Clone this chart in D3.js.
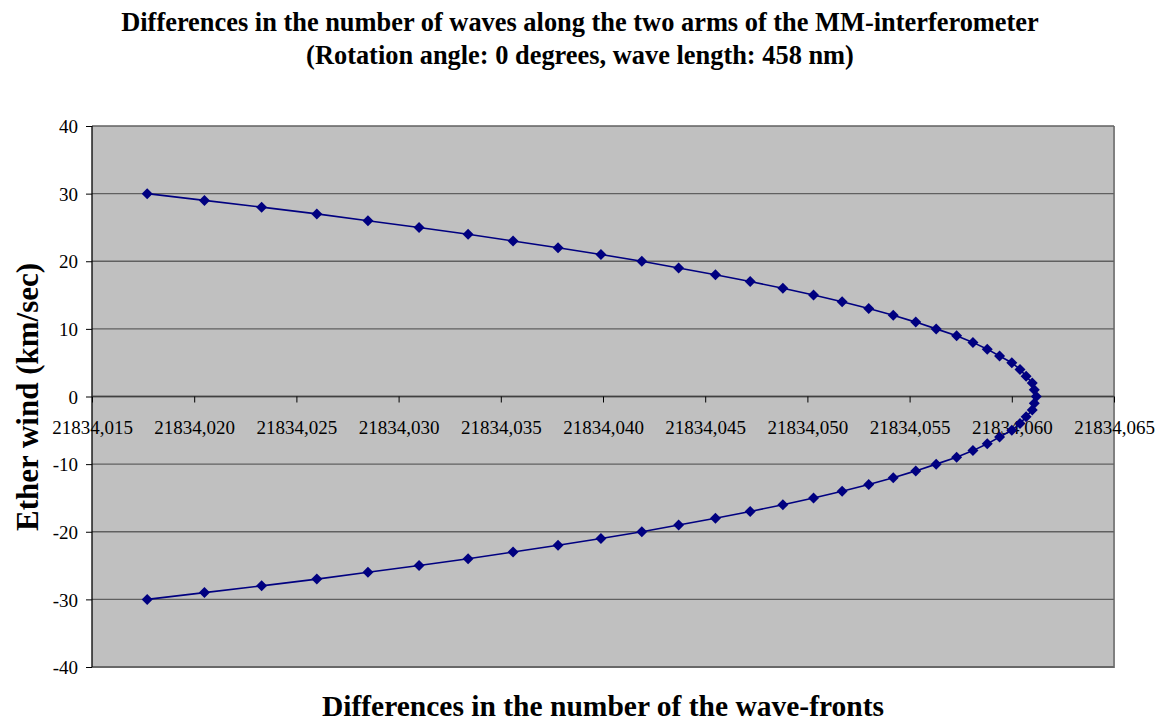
<!DOCTYPE html>
<html><head><meta charset="utf-8">
<script src="https://cdn.jsdelivr.net/npm/d3@7"></script>
<style>body{margin:0;background:#fff}svg{display:block}</style>
</head><body>
<svg id="c" width="1163" height="724"></svg>
<script>
const titleLines = ["Differences in the number of waves along the two arms of the MM-interferometer",
                    "(Rotation angle: 0 degrees, wave length: 458 nm)"];
const xTitle = "Differences in the number of the wave-fronts";
const yTitle = "Ether wind (km/sec)";
const xTicks = [21834.015, 21834.020, 21834.025, 21834.030, 21834.035, 21834.040, 21834.045, 21834.050, 21834.055, 21834.060, 21834.065];
const yTicks = [-40, -30, -20, -10, 0, 10, 20, 30, 40];
const etherWind = [30,29,28,27,26,25,24,23,22,21,20,19,18,17,16,15,14,13,12,11,10,9,8,7,6,5,4,3,2,1,0,
  -1,-2,-3,-4,-5,-6,-7,-8,-9,-10,-11,-12,-13,-14,-15,-16,-17,-18,-19,-20,-21,-22,-23,-24,-25,-26,-27,-28,-29,-30];
const waveDiff = [21834.0177,21834.0205,21834.0233,21834.0260,21834.0285,21834.0310,21834.0334,21834.0356,21834.0378,21834.0399,
  21834.0419,21834.0437,21834.0455,21834.0472,21834.0488,21834.0503,21834.0517,21834.0530,21834.0542,21834.0553,
  21834.0563,21834.0573,21834.0581,21834.0588,21834.0594,21834.0600,21834.0604,21834.0607,21834.0610,21834.0611,21834.0612,
  21834.0611,21834.0610,21834.0607,21834.0604,21834.0600,21834.0594,21834.0588,21834.0581,21834.0573,21834.0563,
  21834.0553,21834.0542,21834.0530,21834.0517,21834.0503,21834.0488,21834.0472,21834.0455,21834.0437,21834.0419,
  21834.0399,21834.0378,21834.0356,21834.0334,21834.0310,21834.0285,21834.0260,21834.0233,21834.0205,21834.0177];

const svg = d3.select("#c");
const L = 92, R = 1114, T = 126, B = 667;
const x = d3.scaleLinear().domain([21834.015, 21834.065]).range([L, R]);
const y = d3.scaleLinear().domain([-40, 40]).range([B, T]);
const font = "'Liberation Serif','Times New Roman',serif";

// plot area
svg.append("rect").attr("x", L).attr("y", T).attr("width", R - L).attr("height", B - T).attr("fill", "#c0c0c0");
// shadow border right & bottom
svg.append("path").attr("d", `M${R},${T}V${B}H${L}`).attr("fill", "none").attr("stroke", "#808080").attr("stroke-width", 2);

// gridlines
svg.append("g").selectAll("line").data(yTicks).join("line")
  .attr("x1", L).attr("x2", R).attr("y1", d => y(d)).attr("y2", d => y(d))
  .attr("stroke", "#606060").attr("stroke-width", 1.3);

// y axis
const yAxis = d3.axisLeft(y).tickValues(yTicks).tickSize(6).tickPadding(8).tickFormat(d => String(d));
const gy = svg.append("g").attr("transform", `translate(${L},0)`).call(yAxis);
gy.select(".domain").attr("stroke", "#000").attr("stroke-width", 1.3).attr("d", `M0,${T}V${B}`);
gy.selectAll(".tick line").attr("stroke", "#000");
gy.selectAll("text").attr("font-family", font).attr("font-size", 19).attr("fill", "#000").attr("dy", "0.35em");

// x axis at y=0
const xAxis = d3.axisBottom(x).tickValues(xTicks).tickSize(6).tickPadding(18)
  .tickFormat(d => d.toFixed(3).replace(".", ","));
const gx = svg.append("g").attr("transform", `translate(0,${y(0)})`).call(xAxis);
gx.select(".domain").attr("stroke", "#404040").attr("stroke-width", 1.3).attr("d", `M${L},0H${R}`);
gx.selectAll(".tick line").attr("stroke", "#000");
gx.selectAll("text").attr("font-family", font).attr("font-size", 19).attr("fill", "#000");

// series
const pts = etherWind.map((v, i) => [waveDiff[i], v]);
svg.append("path").datum(pts)
  .attr("d", d3.line().x(d => x(d[0])).y(d => y(d[1])))
  .attr("fill", "none").attr("stroke", "#000080").attr("stroke-width", 1.6);
svg.append("g").selectAll("path").data(pts).join("path")
  .attr("transform", d => `translate(${x(d[0])},${y(d[1])})`)
  .attr("d", "M0,-5.5L5.5,0L0,5.5L-5.5,0Z").attr("fill", "#000080");

// titles
svg.append("g").selectAll("text").data(titleLines).join("text")
  .attr("x", 580).attr("y", (d, i) => 31 + i * 33).attr("text-anchor", "middle")
  .attr("font-family", font).attr("font-weight", "bold").attr("font-size", 26.4).text(d => d);
svg.append("text").attr("x", 603).attr("y", 716).attr("text-anchor", "middle")
  .attr("font-family", font).attr("font-weight", "bold").attr("font-size", 29.5).text(xTitle);
svg.append("text").attr("transform", "translate(38,397) rotate(-90)").attr("text-anchor", "middle")
  .attr("font-family", font).attr("font-weight", "bold").attr("font-size", 31).text(yTitle);
</script>
</body></html>
